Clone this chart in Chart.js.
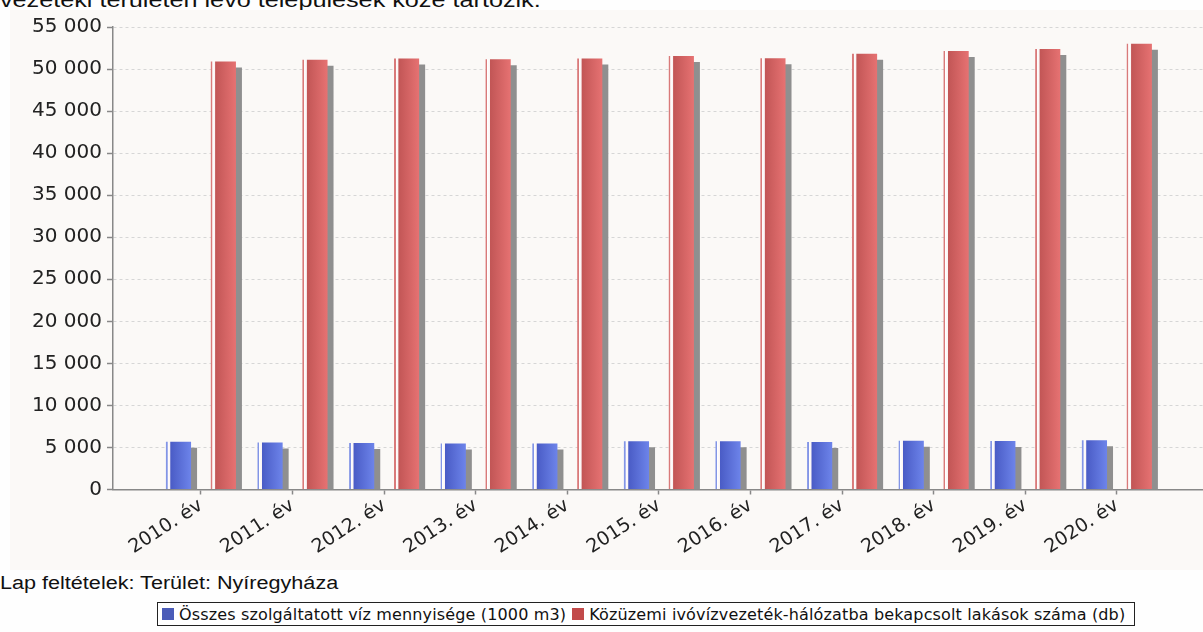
<!DOCTYPE html>
<html>
<head>
<meta charset="utf-8">
<script src="https://cdn.jsdelivr.net/npm/chart.js@4"></script>
<style>
  body { margin: 0; background: #fefefe; width: 1203px; height: 632px; overflow: hidden; position: relative; font-family: "Liberation Sans", Arial, sans-serif; }
  #felso { position: absolute; left: 0; top: -11px; font-size: 21px; line-height: 21px; color: #111; white-space: nowrap; transform: scaleX(1.2); transform-origin: 0 0; }
  #panel { position: absolute; left: 10px; top: 10px; width: 1193px; height: 560px; background: #fbf9f7; }
  #lap { position: absolute; left: 0; top: 573px; font-size: 18px; color: #111; white-space: nowrap; transform: scaleX(1.2); transform-origin: 0 0; }
  #jelmagyarazat { position: absolute; left: 157px; top: 602px; height: 22px; border: 1px solid #222; padding: 0 4px 0 3px; display: flex; align-items: center; font-family: "DejaVu Sans", sans-serif; font-size: 16px; letter-spacing: 0.15px; color: #111; white-space: nowrap; background: #fff; }
  #jelmagyarazat span.negyzet { display: inline-block; width: 12px; height: 12px; margin: 0 5px 0 1px; }
  #jelmagyarazat span.elem { display: inline-flex; align-items: center; margin-right: 5px; }
</style>
</head>
<body>
<div id="felso">vezetéki területén levő települések közé tartozik.</div>
<div id="panel"><canvas id="chartViz"></canvas></div>
<div id="lap">Lap feltételek: Terület: Nyíregyháza</div>
<div id="jelmagyarazat"></div>
<script>
// Adatok
const evek = ['2010. év', '2011. év', '2012. év', '2013. év', '2014. év', '2015. év',
              '2016. év', '2017. év', '2018. év', '2019. év', '2020. év'];
const vizMennyiseg = [5680, 5580, 5530, 5460, 5460, 5730, 5730, 5650, 5810, 5770, 5850];
const bekapcsoltLakasok = [50900, 51100, 51240, 51160, 51240, 51560, 51280, 51830, 52150, 52390, 53010];
const sorozatNevek = ['Összes szolgáltatott víz mennyisége (1000 m3)',
                      'Közüzemi ivóvízvezeték-hálózatba bekapcsolt lakások száma (db)'];
const yTickek = [0, 5000, 10000, 15000, 20000, 25000, 30000, 35000, 40000, 45000, 50000, 55000];

// Színek: jelmagyarázat, sötét, világos, csík
const szinek = [
    { jel: '#4b5cb8', sotet: '#4a5cc6', vilagos: '#6d84ea', csik: '#8395e6' },
    { jel: '#c24a4a', sotet: '#c25656', vilagos: '#e67272', csik: '#d97a7a' }
];

function ezres(v) {
    return String(v).replace(/\B(?=(\d{3})+(?!\d))/g, ' ');
}

// Gradiens + árnyék az oszlopokra
const oszlopStilus = {
    id: 'oszlopStilus',
    beforeDatasetsDraw(chart) {
        const ctx = chart.ctx;
        chart.data.datasets.forEach((ds, i) => {
            const sz = szinek[i];
            chart.getDatasetMeta(i).data.forEach(bar => {
                const bal = bar.x - bar.width / 2;
                const g = ctx.createLinearGradient(bal, 0, bal + bar.width, 0);
                g.addColorStop(0, sz.csik);
                g.addColorStop(0.06, sz.csik);
                g.addColorStop(0.07, '#ffffff');
                g.addColorStop(0.16, '#fbf4f4');
                g.addColorStop(0.19, sz.sotet);
                g.addColorStop(1, sz.vilagos);
                bar.options = Object.assign({}, bar.options, { backgroundColor: g });
            });
        });
        ctx.save();
        ctx.shadowColor = '#8f8f8f';
        ctx.shadowOffsetX = 6;
        ctx.shadowOffsetY = 6;
        ctx.shadowBlur = 0;
    },
    afterDatasetsDraw(chart) {
        chart.ctx.restore();
    }
};

const ctx = document.getElementById('chartViz');
const chartViz = new Chart(ctx, {
    type: 'bar',
    data: {
        datasets: [vizMennyiseg, bekapcsoltLakasok].map((adat, i) => ({
            label: sorozatNevek[i],
            data: adat.map((v, j) => ({ x: j, y: v })),
            backgroundColor: szinek[i].sotet,
            borderWidth: 0,
            categoryPercentage: 0.98,
            barPercentage: 0.56,
            clip: { left: false, top: false, right: false, bottom: 0 }
        }))
    },
    options: {
        responsive: true,
        maintainAspectRatio: false,
        animation: false,
        layout: { padding: { top: 14, right: 0, left: 0, bottom: 0 } },
        scales: {
            x: {
                type: 'linear',
                offset: false,
                min: -0.96,
                max: 10.94,
                afterBuildTicks: s => { s.ticks = evek.map((e, i) => ({ value: i })); },
                afterFit: s => { s.height = 80.5; },
                grid: { offset: false, drawOnChartArea: false, tickLength: 5, tickColor: '#888', tickWidth: 1.5 },
                border: { color: '#888', width: 1.5 },
                ticks: {
                    autoSkip: false,
                    minRotation: 33,
                    maxRotation: 33,
                    padding: 0,
                    color: '#222',
                    font: { family: 'DejaVu Sans', size: 19 },
                    callback: v => evek[v]
                }
            },
            y: {
                min: 0,
                max: 55000,
                afterBuildTicks: s => { s.ticks = yTickek.map(v => ({ value: v })); },
                afterFit: s => { s.width = 103; },
                grid: { color: '#d6d6d6', lineWidth: 1, tickLength: 6, tickColor: '#888', tickWidth: 1.5, tickBorderDash: [] },
                border: { color: '#888', width: 1.5, dash: [3, 3] },
                ticks: {
                    padding: 5,
                    color: '#222',
                    font: { family: 'DejaVu Sans', size: 20 },
                    callback: v => ezres(v)
                }
            }
        },
        plugins: {
            legend: { display: false },
            tooltip: { enabled: false }
        }
    },
    plugins: [oszlopStilus]
});

// Jelmagyarázat a sorozatokból
const jm = document.getElementById('jelmagyarazat');
chartViz.data.datasets.forEach((ds, i) => {
    const elem = document.createElement('span');
    elem.className = 'elem';
    const n = document.createElement('span');
    n.className = 'negyzet';
    n.style.background = szinek[i].jel;
    elem.appendChild(n);
    elem.appendChild(document.createTextNode(ds.label));
    jm.appendChild(elem);
});
</script>
</body>
</html>
